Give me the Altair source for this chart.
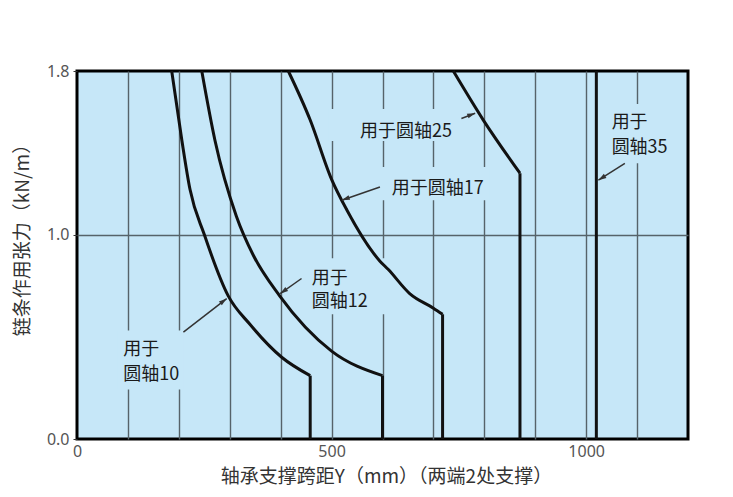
import math
import altair as alt
import pandas as pd

# ---- data ----
c10_x = [186, 206, 222, 250, 297, 340, 402, 458]
c10_y = [1.80, 1.46, 1.22, 1.00, 0.70, 0.56, 0.40, 0.31]
c12_x = [245, 271, 313, 346, 398, 500, 600]
c12_y = [1.80, 1.46, 1.09, 0.90, 0.70, 0.43, 0.31]
c17_x = [415, 458, 500, 530, 595, 611, 654, 700, 718]
c17_y = [1.80, 1.56, 1.27, 1.12, 0.87, 0.83, 0.71, 0.64, 0.61]
c25_x = [739, 798, 870]
c25_y = [1.80, 1.56, 1.30]
c35_x = 1020
y_max = 1.8
x_max = 1200

x_ticks = list(range(0, 1201, 100))
y_ticks = [0.0, 1.0, 1.8]

label_text = ["用于", "圆轴10", "用于", "圆轴12", "用于圆轴17", "用于圆轴25", "用于", "圆轴35"]
label_x = [91, 91, 461, 461, 618, 556, 1050, 1050]
label_y = [0.433, 0.311, 0.785, 0.670, 1.225, 1.503, 1.544, 1.421]

arrow_x1 = [209, 441, 595, 755, 1076]
arrow_y1 = [0.523, 0.785, 1.233, 1.568, 1.348]
arrow_x2 = [294, 399, 520, 782, 1024]
arrow_y2 = [0.687, 0.711, 1.168, 1.593, 1.266]

box_x1 = [79, 448, 587, 493, 1037]
box_x2 = [210, 607, 811, 744, 1190]
box_y1 = [0.242, 0.61, 1.168, 1.457, 1.349]
box_y2 = [0.531, 0.884, 1.33, 1.614, 1.638]

W, H = 611, 368
BG = "#c6e7f8"
GRID = "#56636a"

# ---- tables ----
rows = []
for name, xs_, ys_ in [("10", c10_x, c10_y), ("12", c12_x, c12_y),
                       ("17", c17_x, c17_y), ("25", c25_x, c25_y)]:
    for i, (a, b) in enumerate(zip(xs_, ys_)):
        rows.append({"curve": name, "x": a, "y": b, "i": i})
curves = pd.DataFrame(rows)

drops = pd.DataFrame({
    "x": [c10_x[-1], c12_x[-1], c17_x[-1], c25_x[-1], c35_x],
    "y": [c10_y[-1], c12_y[-1], c17_y[-1], c25_y[-1], y_max],
    "y0": [0, 0, 0, 0, 0],
})

labels = pd.DataFrame({"t": label_text, "x": label_x, "y": label_y})
arrows = pd.DataFrame({"x": arrow_x1, "y": arrow_y1, "x2": arrow_x2, "y2": arrow_y2})
boxes = pd.DataFrame({"x": box_x1, "x2": box_x2, "y": box_y1, "y2": box_y2})

sx = W / x_max
sy = H / y_max
heads = []
for a, b, c, d in zip(arrow_x1, arrow_y1, arrow_x2, arrow_y2):
    dxp = (c - a) * sx
    dyp = -(d - b) * sy
    L = math.hypot(dxp, dyp)
    ux, uy = dxp / L, dyp / L
    ang = math.degrees(math.atan2(dxp, -dyp)) % 360
    heads.append({"x": c - 4 * ux / sx, "y": d + 4 * uy / sy, "a": ang})
heads = pd.DataFrame(heads)

xs = alt.Scale(domain=[0, x_max], nice=False, zero=False)
ys = alt.Scale(domain=[0, y_max], nice=False, zero=False)

x_axis = alt.Axis(
    values=x_ticks,
    labelExpr="datum.value % 500 === 0 ? datum.label : ''",
    format="d",
    grid=True,
    gridColor={"condition": {"test": "datum.value === 0 || datum.value === 1200", "value": "rgba(0,0,0,0)"}, "value": GRID},
    gridWidth=1.4,
    ticks=False,
    domain=False,
    labelFont="Noto Sans",
    labelFontSize=16,
    labelColor="#555555",
    labelPadding=4,
    labelFlush=False,
    title="轴承支撑跨距Y（mm）（两端2处支撑）",
    titleFont="Noto Sans CJK SC",
    titleFontSize=19,
    titleFontWeight="normal",
    titleColor="#333333",
    titleX=309,
    titleY=37,
    titleAlign="center",
    titleBaseline="middle",
)
y_axis = alt.Axis(
    values=y_ticks,
    format=".1f",
    grid=True,
    gridColor={"condition": {"test": "datum.value === 0 || datum.value === 1.8", "value": "rgba(0,0,0,0)"}, "value": GRID},
    gridWidth=1.4,
    ticks=True,
    tickSize=4,
    tickColor="#333333",
    domain=False,
    labelFont="Noto Sans",
    labelFontSize=16,
    labelColor="#555555",
    labelPadding=4,
    labelFlush=False,
    title="链条作用张力（kN/m）",
    titleFont="Noto Sans CJK SC",
    titleFontSize=19,
    titleFontWeight="normal",
    titleColor="#333333",
    titleX=-55,
    titleY=164,
    titleAngle=270,
    titleAlign="center",
    titleBaseline="middle",
)

box_layer = alt.Chart(boxes).mark_rect(fill=BG).encode(
    x=alt.X("x:Q", scale=xs, axis=x_axis), x2="x2:Q",
    y=alt.Y("y:Q", scale=ys, axis=y_axis), y2="y2:Q",
)

curve_layer = alt.Chart(curves).mark_line(
    color="#111111", strokeWidth=3, interpolate="monotone", strokeJoin="miter"
).encode(
    x=alt.X("x:Q", scale=xs), y=alt.Y("y:Q", scale=ys),
    detail="curve:N", order="i:Q",
)

drop_layer = alt.Chart(drops).mark_rule(color="#111111", strokeWidth=3).encode(
    x=alt.X("x:Q", scale=xs), y=alt.Y("y:Q", scale=ys), y2="y0:Q",
)

arrow_layer = alt.Chart(arrows).mark_rule(color="#333333", strokeWidth=1.5).encode(
    x=alt.X("x:Q", scale=xs), y=alt.Y("y:Q", scale=ys), x2="x2:Q", y2="y2:Q",
)

head_layer = alt.Chart(heads).mark_point(
    shape="M0,-1L0.6,1L-0.6,1Z", filled=True, color="#333333", size=64, opacity=1
).encode(
    x=alt.X("x:Q", scale=xs), y=alt.Y("y:Q", scale=ys), angle=alt.Angle("a:Q", scale=None),
)

text_layer = alt.Chart(labels).mark_text(
    align="left", baseline="middle", font="Noto Sans CJK SC", fontSize=18, color="#1a1a1a"
).encode(
    x=alt.X("x:Q", scale=xs), y=alt.Y("y:Q", scale=ys), text="t:N",
)

chart = alt.layer(
    box_layer, curve_layer, drop_layer, arrow_layer, head_layer, text_layer
).properties(
    width=W, height=H,
    autosize=alt.AutoSizeParams(type="none"),
    padding={"left": 69, "top": 63, "right": 30, "bottom": 48},
).configure_view(
    fill=BG, stroke="#000000", strokeWidth=3,
)

chart.save("out.html", embed_options={"renderer": "svg", "actions": False})
